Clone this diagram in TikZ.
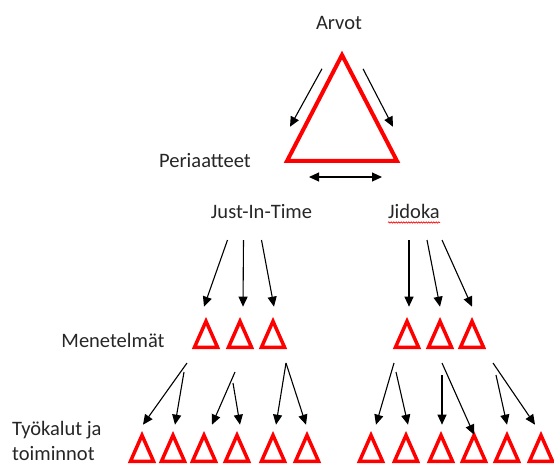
\documentclass[tikz,border=0pt]{standalone}
\usepackage{fontspec}
\setmainfont{Carlito}
\usetikzlibrary{arrows.meta,shapes.geometric,decorations.pathmorphing}

\begin{document}
\begin{tikzpicture}[x=1pt,y=-1pt,
		every node/.append style={inner sep=0pt,text=black!85,font=\fontsize{20.5}{25}\selectfont},
		tri/.style={shape=isosceles triangle,shape border rotate=90,isosceles triangle stretches,
			draw=red,line width=3.5pt,minimum width=23pt,minimum height=26pt},
		arr/.style={-{Triangle[length=10pt,width=9pt]},line width=1.1pt,black}
	]
	\useasboundingbox (0,0) rectangle (554,464);
	% values and principles
	\node[anchor=base] (arvot) at (339,29) {Arvot};
	\node[tri,line width=4pt,minimum width=110pt,minimum height=106pt,anchor=south] (big) at (342,163) {};
	\node[anchor=base] (peri) at (205,167) {Periaatteet};
	\draw[arr] ([shift={(-20,19)}]big.north) -- ([shift={(-52,77)}]big.north);
	\draw[arr] ([shift={(21,19)}]big.north) -- ([shift={(51,77)}]big.north);
	\draw[arr,{Triangle[length=10pt,width=9pt]}-{Triangle[length=10pt,width=9pt]}] ([shift={(-33,14)}]big.south) -- ([shift={(40,14)}]big.south);

	\node[anchor=base] (jit) at (261.5,218) {Just-In-Time};
	\node[anchor=base] (jid) at (414,218) {Jidoka};
	\draw[red,line width=0.6pt,decorate,decoration={snake,amplitude=0.7pt,segment length=2.5pt}]
		([yshift=-4.5pt]jid.base west) -- ([yshift=-4.5pt]jid.base east);

	% methods
	\node[anchor=base] (met) at (113,347) {Menetelmät};
	\foreach \x [count=\i] in {206,240,273,407,440,472}
		\node[tri,anchor=south] (m\i) at (\x,349) {};
	\foreach \sx/\m/\ex in {-34/1/-2,-18/2/3,0/3/1}
		\draw[arr] ([shift={(\sx,22)}]jit.base) -- ([shift={(\ex,-10)}]m\m.north);
	\foreach \sx/\m/\ex in {-5/4/2,13/5/0,28/6/0}
		\draw[arr] ([shift={(\sx,22)}]jid.base) -- ([shift={(\ex,-10)}]m\m.north);

	% tools and activities
	\node[anchor=base west,align=left] (tyo) at (12,460) {Työkalut ja\\toiminnot};
	\foreach \x [count=\i] in {142,173,204,237,273,307,371,406,441,474,507,541}
		\node[tri,anchor=south] (t\i) at (\x,463) {};
	\foreach \m/\sx/\sy/\t/\ex/\ey in {1/-19/14/1/1/-6,1/-22/23/2/2/-6,2/-5/23/3/8/-6,2/-7/34/4/3/-6,
			3/13/14/5/3/-6,3/13/14/6/-1/-6,4/-13/14/7/5/-6,4/-11/23/8/2/-6,
			5/2/26/9/1/-6,5/2/14/10/0/4,6/21/14/12/-6/-6,6/24/26/11/0/-6}
		\draw[arr] ([shift={(\sx,\sy)}]m\m.south) -- ([shift={(\ex,\ey)}]t\t.north);
\end{tikzpicture}
\end{document}
